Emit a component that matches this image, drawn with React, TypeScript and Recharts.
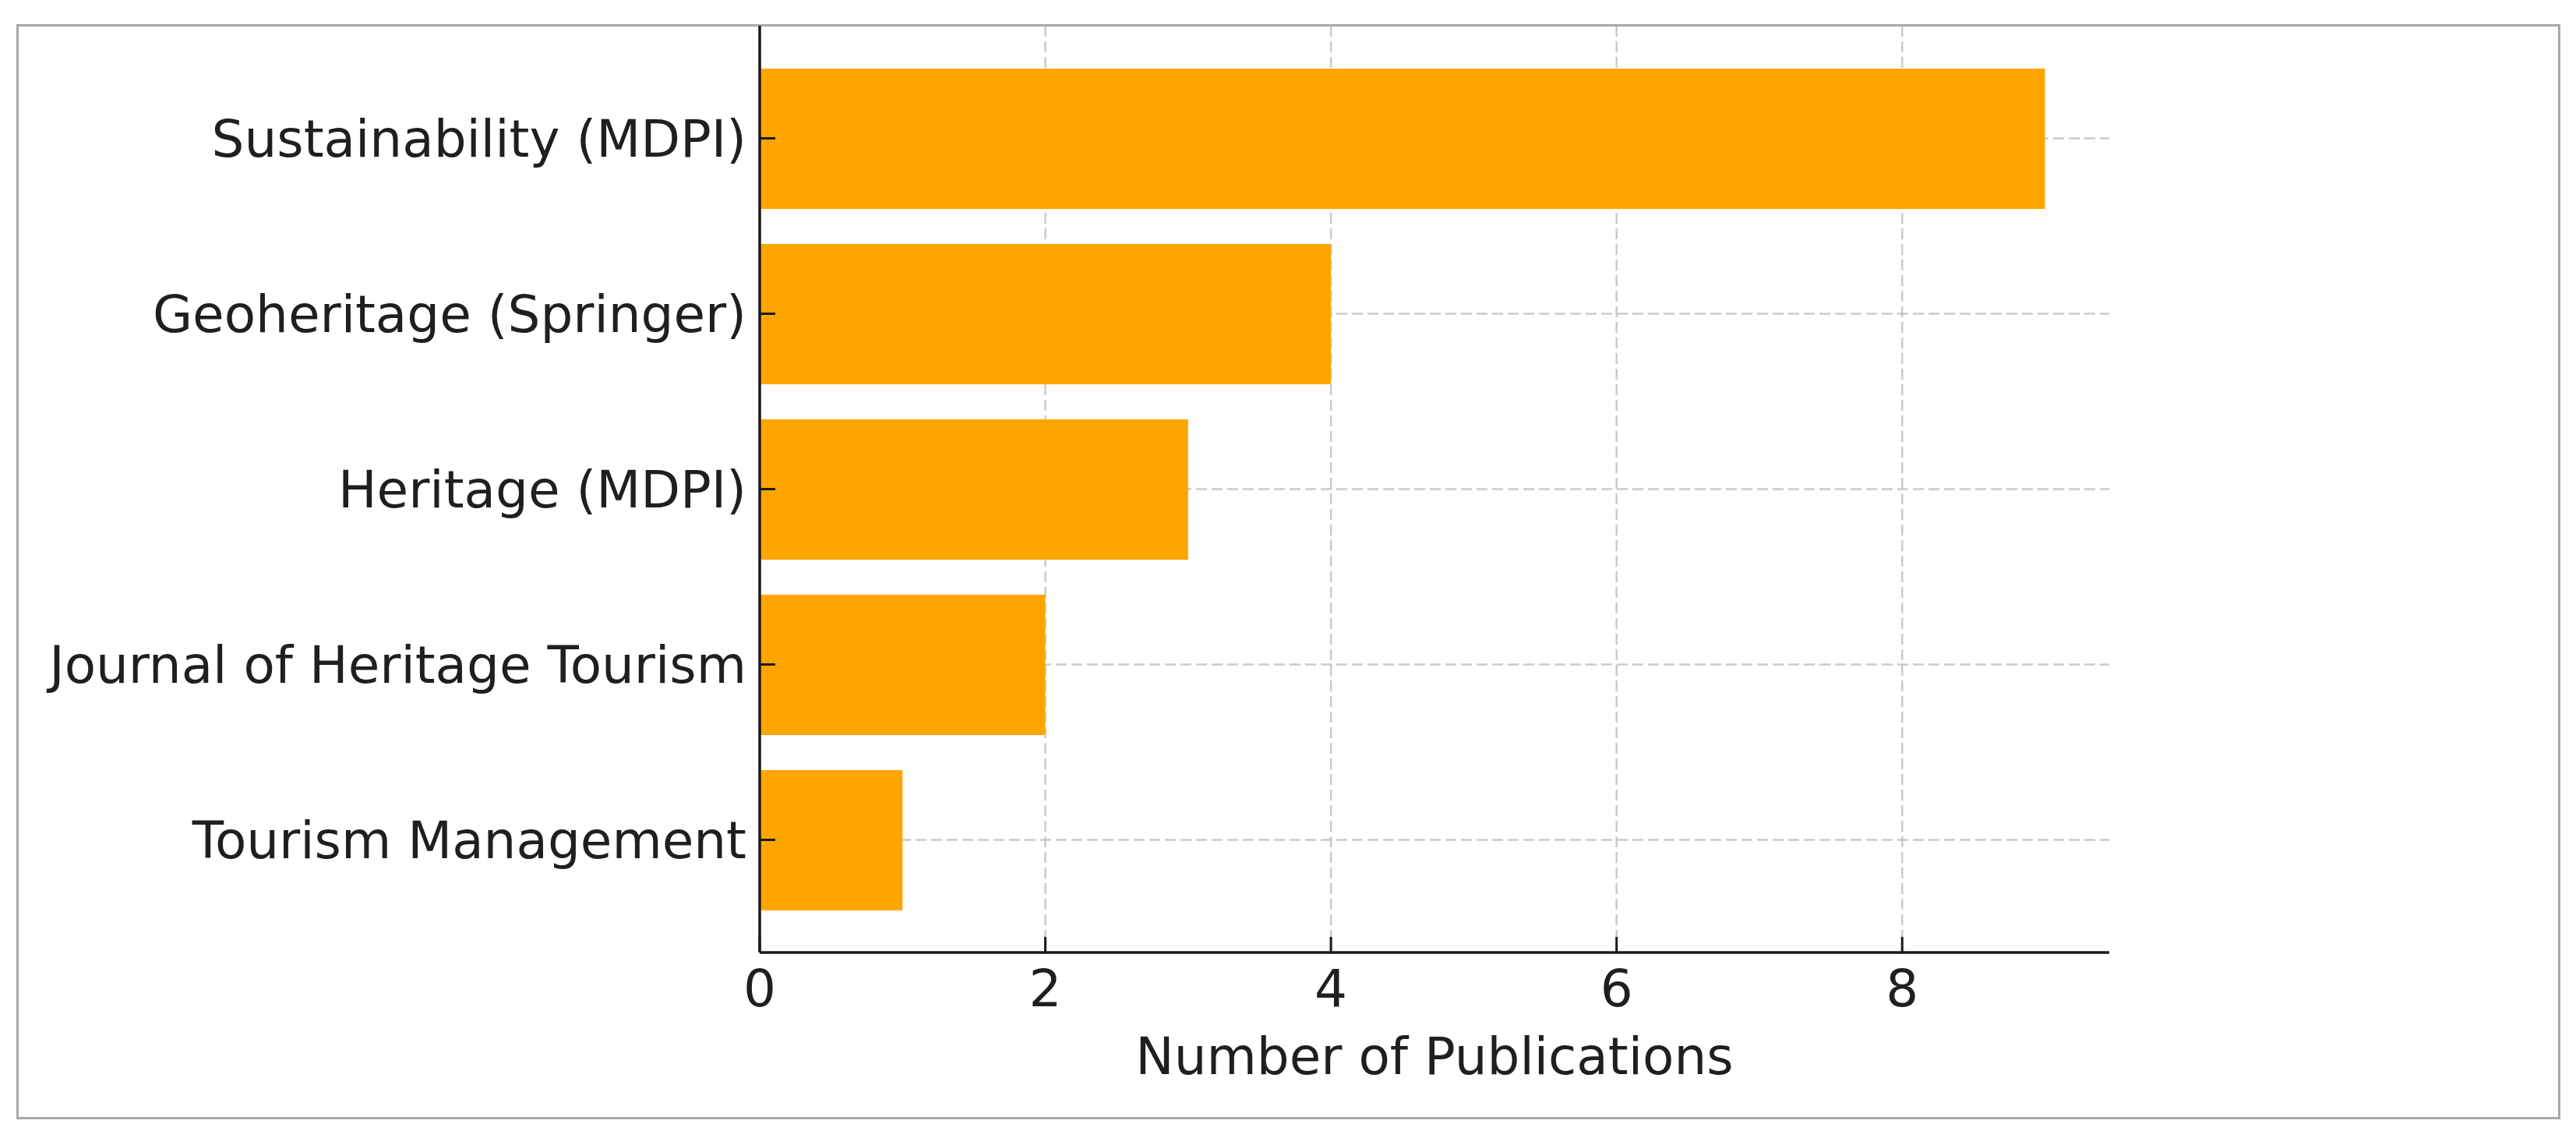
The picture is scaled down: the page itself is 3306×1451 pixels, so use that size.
import { Bar, BarChart, CartesianGrid, XAxis, YAxis } from 'recharts'

const journals = [
  'Sustainability (MDPI)',
  'Geoheritage (Springer)',
  'Heritage (MDPI)',
  'Journal of Heritage Tourism',
  'Tourism Management',
]
const publications = [9, 4, 3, 2, 1]
const xTicks = [0, 2, 4, 6, 8]
const xMax = 9.45

const data = journals.map((name, i) => ({ name, count: publications[i] }))

const font = { fontFamily: '"DejaVu Sans", sans-serif', fontSize: 66, fill: '#1f1f1f' }
const spine = { stroke: '#1a1a1a', strokeWidth: 3.5 }
const tick = { stroke: '#1a1a1a', strokeWidth: 3 }

export default function App() {
  return (
    <div
      style={{
        position: 'absolute',
        left: 0,
        top: 0,
        width: 3306,
        height: 1451,
        background: '#fff',
      }}
    >
      <div
        style={{
          position: 'absolute',
          left: 21,
          top: 31,
          width: 3259,
          height: 1399,
          border: '3px solid #a8a8a8',
        }}
      />
      <div style={{ position: 'absolute', left: 0, top: 0 }}>
        <BarChart
          width={3306}
          height={1451}
          data={data}
          layout="vertical"
          margin={{ top: 33, right: 599, bottom: 68, left: 15 }}
        >
          <Bar dataKey="count" fill="#ffa500" barSize={180} isAnimationActive={false} />
          <CartesianGrid
            syncWithTicks
            stroke="#b8b8b8"
            strokeOpacity={0.75}
            strokeWidth={2.5}
            strokeDasharray="14 6"
          />
          <XAxis
            type="number"
            domain={[0, xMax]}
            ticks={xTicks}
            height={161}
            tickSize={-20}
            tickMargin={42}
            axisLine={spine}
            tickLine={tick}
            tick={font}
            label={{
              value: 'Number of Publications',
              position: 'insideBottom',
              offset: 5,
              ...font,
            }}
          />
          <YAxis
            type="category"
            dataKey="name"
            width={960}
            padding={{ top: 32, bottom: 32 }}
            tickSize={-20}
            tickMargin={37}
            axisLine={spine}
            tickLine={tick}
            tick={font}
            interval={0}
          />
        </BarChart>
      </div>
    </div>
  )
}
